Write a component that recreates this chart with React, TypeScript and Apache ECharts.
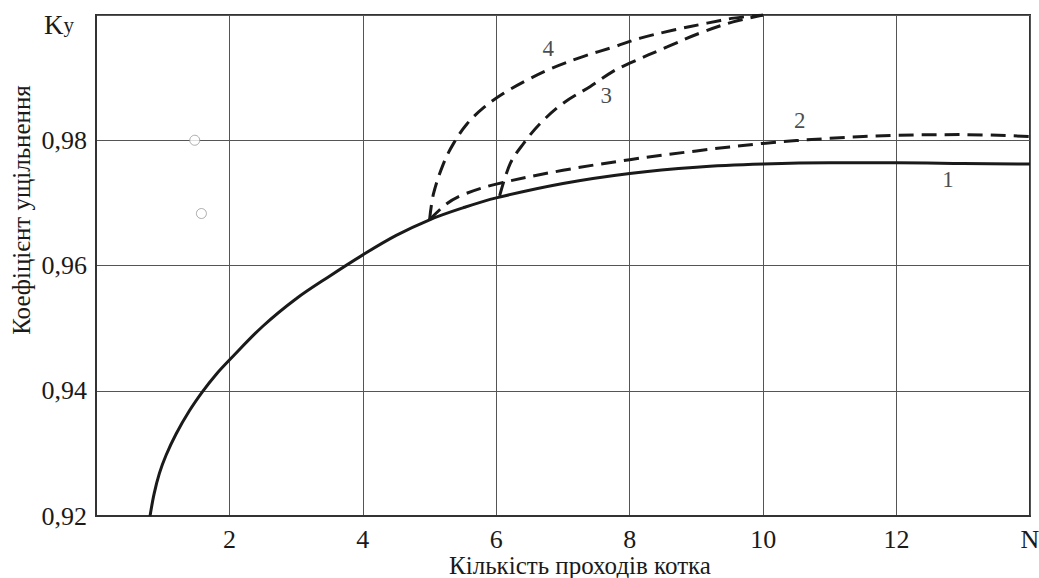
import React, { useEffect, useRef } from "react";
import * as echarts from "echarts";

// Number of roller passes (x) and compaction coefficient Ky (y)
const curve1X = [0.81, 0.87, 0.95, 1.05, 1.2, 1.4, 1.6, 1.8, 2.0, 2.5, 3.0, 3.5, 4.0, 4.5, 5.0, 5.5, 6.0, 7.0, 8.0, 9.0, 10.0, 11.0, 12.0, 13.0, 14.0];
const curve1Y = [0.92, 0.9235, 0.9268, 0.9297, 0.9331, 0.9368, 0.9399, 0.9426, 0.9449, 0.9503, 0.9547, 0.9583, 0.9617, 0.9648, 0.9673, 0.9692, 0.9708, 0.9731, 0.9747, 0.9757, 0.9762, 0.9764, 0.9764, 0.9763, 0.9762];

const curve2X = [5.0, 5.25, 5.5, 6.0, 7.0, 8.0, 9.0, 10.0, 11.0, 12.0, 13.0, 14.0];
const curve2Y = [0.9673, 0.9698, 0.9713, 0.973, 0.9752, 0.9769, 0.9783, 0.9795, 0.9803, 0.9808, 0.9809, 0.9806];

const curve3X = [6.05, 6.21, 6.41, 6.66, 7.0, 7.41, 7.75, 8.0, 8.56, 9.05, 9.55, 10.0];
const curve3Y = [0.9711, 0.9763, 0.9795, 0.9827, 0.9859, 0.9886, 0.991, 0.9923, 0.9949, 0.9971, 0.9989, 1.0];

const curve4X = [5.0, 5.06, 5.21, 5.36, 5.56, 5.81, 6.11, 6.46, 6.81, 7.31, 7.76, 8.16, 8.66, 9.16, 9.56, 10.0];
const curve4Y = [0.9673, 0.9715, 0.9763, 0.9795, 0.9826, 0.9852, 0.9875, 0.9896, 0.9914, 0.9934, 0.9949, 0.9963, 0.9976, 0.9987, 0.9995, 1.0];

const curveLabelNames = ["1", "2", "3", "4"];
const curveLabelX = [12.77, 10.55, 7.65, 6.78];
const curveLabelY = [0.9737, 0.9832, 0.9872, 0.9947];

const circleX = [1.48, 1.58];
const circleY = [0.98, 0.9683];

const xTickLabels: Record<number, string> = { 0: "", 2: "2", 4: "4", 6: "6", 8: "8", 10: "10", 12: "12", 14: "N" };
const yTickLabels: Record<string, string> = { "0.92": "0,92", "0.94": "0,94", "0.96": "0,96", "0.98": "0,98", "1.00": "" };

const xTitle = "Кількість проходів котка";
const yTitle = "Коефіцієнт ущільнення";

const FONT = "Liberation Serif";
const INK = "#1a1a1a";

const zip = (xs: number[], ys: number[]) => xs.map((x, i) => [x, ys[i]]);

export default function App() {
  const ref = useRef<HTMLDivElement>(null);
  useEffect(() => {
    if (!ref.current) return;
    const chart = echarts.init(ref.current, null, { renderer: "svg" });
    const solid = { color: INK, width: 3 };
    const dashed = { color: INK, width: 3, type: [15, 8] as number[] };
    const lineSeries = (data: number[][], lineStyle: any) => ({
      type: "line",
      data,
      showSymbol: false,
      symbol: "none",
      smooth: 0.35,
      lineStyle,
      z: 3,
    });
    chart.setOption({
      animation: false,
      backgroundColor: "#fff",
      grid: {
        left: 96,
        right: 9,
        top: 15,
        bottom: 62,
        show: true,
        borderColor: "#333",
        borderWidth: 2,
        containLabel: false,
        outerBoundsMode: "none",
      },
      xAxis: {
        type: "value",
        min: 0,
        max: 14,
        interval: 2,
        axisLine: { show: true, lineStyle: { color: "#333", width: 2 } },
        axisTick: { show: false },
        splitLine: { show: true, lineStyle: { color: "#555", width: 1 } },
        axisLabel: {
          margin: 10,
          color: INK,
          fontFamily: FONT,
          fontSize: 26,
          formatter: (v: number) => xTickLabels[Math.round(v)] ?? String(v),
        },
      },
      yAxis: {
        type: "value",
        min: 0.92,
        max: 1.0,
        interval: 0.02,
        axisLine: { show: true, lineStyle: { color: "#333", width: 2 } },
        axisTick: { show: false },
        splitLine: { show: true, lineStyle: { color: "#555", width: 1 } },
        axisLabel: {
          margin: 9,
          color: INK,
          fontFamily: FONT,
          fontSize: 26,
          formatter: (v: number) => yTickLabels[v.toFixed(2)] ?? v.toFixed(2).replace(".", ","),
        },
      },
      series: [
        lineSeries(zip(curve1X, curve1Y), solid),
        lineSeries(zip(curve2X, curve2Y), dashed),
        lineSeries(zip(curve3X, curve3Y), dashed),
        lineSeries(zip(curve4X, curve4Y), dashed),
        {
          type: "scatter",
          data: zip(circleX, circleY),
          symbol: "circle",
          symbolSize: 10,
          itemStyle: { color: "#fff", borderColor: "#999", borderWidth: 1 },
          z: 4,
        },
        {
          type: "scatter",
          data: curveLabelNames.map((n, i) => [curveLabelX[i], curveLabelY[i], n]),
          symbolSize: 0,
          label: {
            show: true,
            position: "inside",
            formatter: (p: any) => p.value[2],
            color: INK,
            fontFamily: FONT,
            fontSize: 23,
          },
          z: 5,
        },
      ],
      graphic: [
        {
          type: "text",
          x: 580,
          y: 565,
          style: {
            text: xTitle,
            fill: INK,
            font: `25px "${FONT}"`,
            textAlign: "center",
            textVerticalAlign: "middle",
          },
        },
        {
          type: "text",
          x: 21,
          y: 210,
          rotation: Math.PI / 2,
          style: {
            text: yTitle,
            fill: INK,
            font: `25px "${FONT}"`,
            textAlign: "center",
            textVerticalAlign: "middle",
          },
        },
        {
          type: "text",
          x: 44,
          y: 11,
          style: {
            text: "{a|K}{b|у}",
            rich: {
              a: { fontFamily: FONT, fontSize: 27, fill: INK, color: INK },
              b: { fontFamily: FONT, fontSize: 21, fill: INK, color: INK },
            },
          },
        },
      ],
    });
    return () => chart.dispose();
  }, []);
  return (
    <div
      ref={ref}
      style={{ position: "fixed", left: 0, top: 0, width: 1039, height: 578, background: "#fff" }}
    />
  );
}
